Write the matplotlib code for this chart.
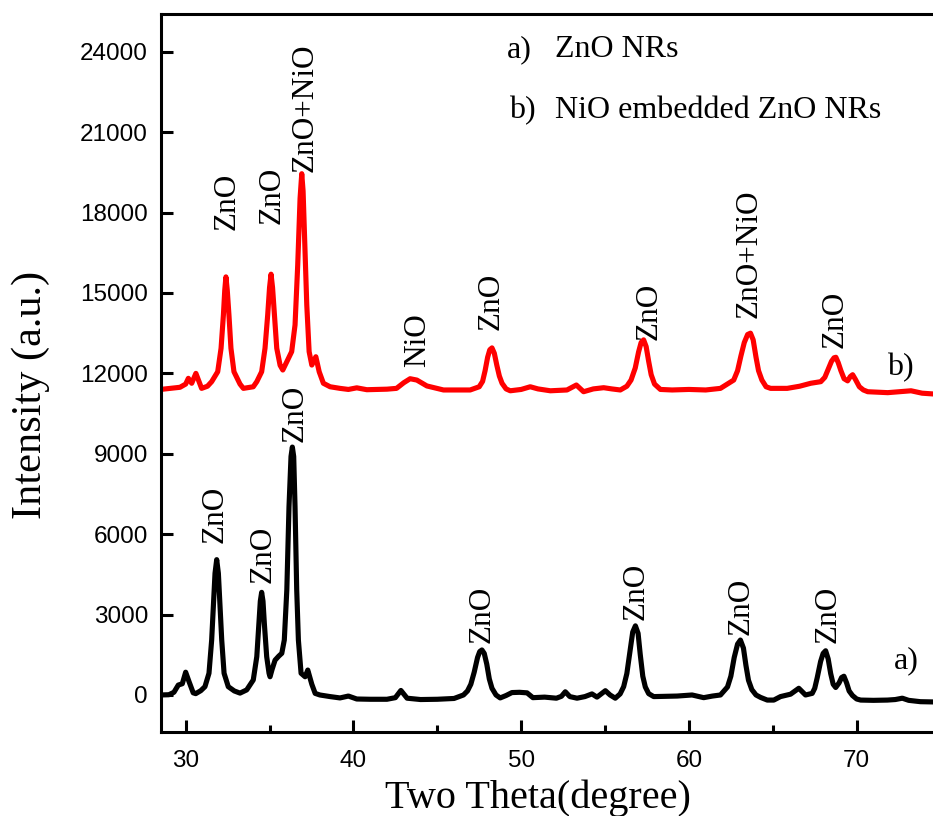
import matplotlib
matplotlib.use("Agg")
import matplotlib.pyplot as plt
from matplotlib.ticker import MultipleLocator

# ---- data ----
two_theta_a = [28.5, 29.0, 29.3, 29.56, 29.8, 30.0, 30.2, 30.45, 30.6, 30.9, 31.15, 31.39, 31.55,
               31.65, 31.75, 31.85, 31.95, 32.05, 32.15, 32.29, 32.54, 32.9, 33.24, 33.64, 34.03,
               34.24, 34.37, 34.45, 34.53, 34.61, 34.69, 34.83, 34.97, 35.03, 35.15, 35.33, 35.55,
               35.73, 35.88, 36.03, 36.16, 36.28, 36.36, 36.44, 36.52, 36.62, 36.72, 36.88, 37.12,
               37.28, 37.52, 37.72, 38.0, 38.2, 38.61, 39.2, 39.7, 40.2, 41.0, 42.0, 42.5, 42.83,
               43.2, 44.0, 45.0, 46.0, 46.56, 46.8, 47.0, 47.2, 47.4, 47.53, 47.66, 47.8, 47.95,
               48.1, 48.26, 48.5, 48.75, 49.1, 49.45, 49.9, 50.35, 50.7, 51.4, 52.1, 52.4, 52.63,
               52.9, 53.33, 53.8, 54.22, 54.52, 55.02, 55.3, 55.61, 55.9, 56.11, 56.3, 56.5, 56.65,
               56.81, 56.97, 57.1, 57.25, 57.4, 57.6, 57.9, 58.5, 59.3, 60.19, 60.88, 61.4, 61.88,
               62.3, 62.5, 62.7, 62.9, 63.07, 63.25, 63.4, 63.55, 63.75, 64.0, 64.27, 64.67, 65.06,
               65.46, 66.06, 66.55, 66.95, 67.35, 67.5, 67.65, 67.85, 68.0, 68.15, 68.3, 68.45,
               68.6, 68.75, 68.95, 69.1, 69.24, 69.4, 69.55, 69.75, 70.0, 70.24, 71.0, 71.83, 72.3,
               72.72, 73.1, 73.8, 74.6]
intensity_a = [0, 10, 100, 370, 420, 850, 500, 80, 50, 160, 310, 810, 2050,
               3290, 4540, 5050, 4540, 3290, 2050, 810, 310, 150, 70, 190, 560,
               1430, 2675, 3500, 3830, 3500, 2675, 1430, 810, 680, 950, 1300, 1450,
               1555, 2050, 3920, 7025, 8900, 9250, 8900, 7025, 3920, 2050, 810, 680,
               930, 400, 60, 0, -20, -60, -110, -40, -150, -160, -160, -100, 170,
               -120, -170, -160, -130, 0, 150, 400, 850, 1400, 1620, 1680, 1550, 1150,
               600, 250, 0, -110, -20, 90, 100, 80, -100, -80, -120, -50, 120,
               -60, -120, -60, 40, -80, 160, 0, -120, 40, 310, 800, 1700, 2350,
               2580, 2300, 1500, 700, 300, 50, -60, -50, -40, 0, -100, -40, 0,
               300, 700, 1400, 1900, 2050, 1750, 1100, 550, 200, 0, -90, -190, -190,
               -60, 30, 250, 0, 60, 250, 650, 1250, 1550, 1650, 1350, 800,
               400, 280, 450, 650, 700, 450, 150, -20, -150, -190, -200, -190, -170,
               -120, -200, -250, -260]

two_theta_b = [28.5, 29.06, 29.66, 30.0, 30.16, 30.36, 30.61, 30.95, 31.3, 31.55, 31.91, 32.11,
               32.25, 32.33, 32.40, 32.48, 32.58, 32.70, 32.88, 33.24, 33.44, 34.03, 34.24, 34.53,
               34.73, 34.89, 35.0, 35.09, 35.18, 35.29, 35.43, 35.63, 35.79, 36.03, 36.32, 36.52,
               36.68, 36.82, 36.92, 37.0, 37.08, 37.22, 37.36, 37.52, 37.76, 37.96, 38.21, 38.61,
               39.2, 39.7, 40.2, 40.8, 41.5, 42.0, 42.57, 43.0, 43.38, 43.78, 44.38, 45.37, 46.2,
               46.96, 47.5, 47.7, 47.85, 48.0, 48.13, 48.26, 48.4, 48.55, 48.7, 48.86, 49.1, 49.35,
               50.0, 50.54, 51.0, 51.74, 52.73, 53.29, 53.72, 54.3, 54.92, 55.4, 55.91, 56.3,
               56.55, 56.8, 57.0, 57.15, 57.3, 57.45, 57.6, 57.75, 57.95, 58.3, 59.0, 60.0, 61.0,
               61.88, 62.67, 62.9, 63.1, 63.3, 63.5, 63.67, 63.83, 64.0, 64.15, 64.35, 64.6, 64.87,
               65.86, 66.6, 67.26, 67.86, 68.1, 68.3, 68.5, 68.65, 68.76, 68.9, 69.06, 69.25,
               69.46, 69.62, 69.76, 69.92, 70.16, 70.4, 70.66, 71.85, 72.6, 73.24, 73.9, 74.6]
intensity_b = [11400, 11440, 11480, 11600, 11815, 11630, 12000, 11440, 11520, 11690, 12060, 12935,
               14180, 15100, 15600, 15100, 14180, 12935, 12060, 11600, 11440, 11500, 11690, 12060,
               12935, 14180, 15200, 15700, 15200, 14180, 12935, 12300, 12125, 12435, 12810, 13805,
               16045, 18530, 19450, 18800, 17290, 14550, 12810, 12310, 12620, 12060, 11630, 11500,
               11440, 11400, 11460, 11390, 11400, 11410, 11440, 11650, 11800, 11750, 11530, 11380, 11380,
               11380, 11500, 11700, 12100, 12600, 12880, 12950, 12750, 12300, 11900, 11630, 11420, 11350,
               11400, 11500, 11420, 11350, 11380, 11565, 11315, 11420, 11465, 11420, 11380, 11520,
               11750, 12200, 12800, 13150, 13250, 13000, 12450, 11950, 11600, 11400, 11380, 11400, 11380,
               11440, 11750, 12100, 12650, 13150, 13450, 13500, 13250, 12600, 12100, 11750, 11500, 11440,
               11440, 11520, 11630, 11690, 11850, 12150, 12450, 12580, 12600, 12400, 12100, 11800,
               11720, 11880, 11950, 11780, 11500, 11380, 11315, 11280, 11320, 11350, 11260, 11230]

# peak labels: (text, x, y of label start)
labels_a = ["ZnO", "ZnO", "ZnO", "ZnO", "ZnO", "ZnO", "ZnO"]
label_x_a = [31.55, 34.43, 36.36, 47.46, 56.66, 62.92, 68.14]
label_y_a = [5660, 4190, 9450, 1950, 2800, 2240, 1950]

labels_b = ["ZnO", "ZnO", "ZnO+NiO", "NiO", "ZnO", "ZnO", "ZnO+NiO", "ZnO"]
label_x_b = [32.30, 34.97, 36.94, 43.62, 48.05, 57.45, 63.42, 68.54]
label_y_b = [17350, 17570, 19525, 12250, 13620, 13245, 14055, 12935]

x_ticks = [30, 40, 50, 60, 70]
y_ticks = [0, 3000, 6000, 9000, 12000, 15000, 18000, 21000, 24000]

SERIF = "Liberation Serif"
SANS = "Liberation Sans"

fig = plt.figure(figsize=(9.33, 8.16), dpi=100)
W, H = 933, 816
ax = fig.add_axes([160.5 / W, (H - 731.7) / H, 1 - 160.5 / W, (731.7 - 14) / H])

ax.plot(two_theta_a, intensity_a, color="black", lw=3.7,
        solid_joinstyle="round", solid_capstyle="round")
ax.plot(two_theta_b, intensity_b, color="#ff0000", lw=3.7,
        solid_joinstyle="round", solid_capstyle="round")

ax.set_xlim(28.5, 74.55)
ax.set_ylim(-1370, 25408)

for s in ["left", "bottom", "top"]:
    ax.spines[s].set_linewidth(2.2)
ax.spines["right"].set_visible(False)

ax.xaxis.set_major_locator(MultipleLocator(10))
ax.xaxis.set_minor_locator(MultipleLocator(5))
ax.set_xticks(x_ticks)
ax.set_yticks(y_ticks)
ax.tick_params(axis="both", which="major", direction="in", length=8.6, width=2.2,
               labelsize=17.5)
ax.tick_params(axis="x", which="minor", direction="in", length=5, width=2.2)
ax.tick_params(axis="x", which="major", pad=13)
ax.tick_params(axis="y", which="major", pad=9, left=True, right=False)
ax.tick_params(axis="x", which="both", top=False)
for lab in ax.get_xticklabels() + ax.get_yticklabels():
    lab.set_fontfamily(SANS)

for t, x, y in zip(labels_a, label_x_a, label_y_a):
    ax.text(x + 0.18, y, t, rotation=90, ha="center", va="bottom",
            fontsize=22.5, family=SERIF, color="black")
for t, x, y in zip(labels_b, label_x_b, label_y_b):
    ax.text(x + 0.18, y, t, rotation=90, ha="center", va="bottom",
            fontsize=22.5, family=SERIF, color="black")

# legend-like texts
ax.text(49.13, 23800, "a)", fontsize=23, family=SERIF, ha="left", va="baseline")
ax.text(52.03, 23800, "ZnO NRs", fontsize=23, family=SERIF, ha="left", va="baseline")
ax.text(49.3, 21530, "b)", fontsize=23, family=SERIF, ha="left", va="baseline")
ax.text(52.03, 21530, "NiO embedded ZnO NRs", fontsize=23, family=SERIF, ha="left", va="baseline")

ax.text(72.22, 1000, "a)", fontsize=23, family=SERIF, ha="left", va="baseline")
ax.text(71.83, 11940, "b)", fontsize=23, family=SERIF, ha="left", va="baseline")

fig.text(537.5 / W, 1 - 808 / H, "Two Theta(degree)", fontsize=29, family=SERIF,
         ha="center", va="baseline")
fig.text(31 / W, 1 - 395 / H, "Intensity (a.u.)", fontsize=30.5, family=SERIF,
         ha="center", va="center", rotation=90)

fig.savefig("out.png", dpi=100)
